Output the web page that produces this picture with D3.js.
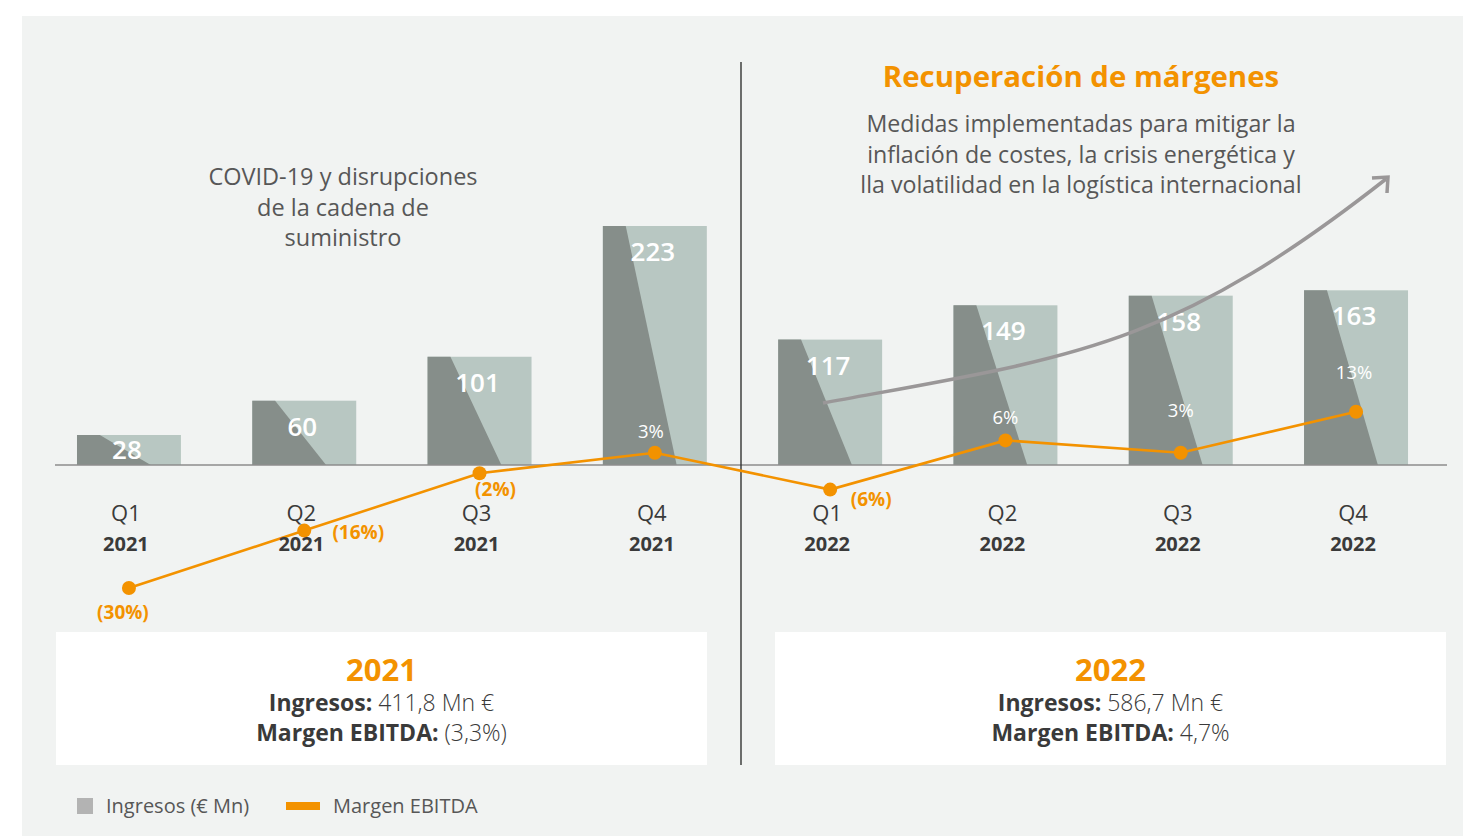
<!DOCTYPE html>
<html>
<head>
<meta charset="utf-8">
<script src="https://cdn.jsdelivr.net/npm/d3@7"></script>
<style>
  html, body { margin: 0; padding: 0; background: #ffffff; }
  svg { display: block; font-family: "Open Sans", Lato, sans-serif; }
</style>
</head>
<body>
<svg id="chart" width="1463" height="836"></svg>
<script>
// Quarterly revenue (€ Mn) and EBITDA margin (%)
const quarters = ["Q1", "Q2", "Q3", "Q4", "Q1", "Q2", "Q3", "Q4"];
const years    = ["2021", "2021", "2021", "2021", "2022", "2022", "2022", "2022"];
const ingresos = [28, 60, 101, 223, 117, 149, 158, 163];
const margen   = [-30, -16, -2, 3, -6, 6, 3, 13];

// Yearly summaries
const summaryYears    = ["2021", "2022"];
const summaryIngresos = ["411,8 Mn €", "586,7 Mn €"];
const summaryMargen   = ["(3,3%)", "4,7%"];

// Annotations
const covidLines  = ["COVID-19 y disrupciones", "de la cadena de", "suministro"];
const recTitle    = "Recuperación de márgenes";
const recLines    = ["Medidas implementadas para mitigar la",
                     "inflación de costes, la crisis energética y",
                     "lla volatilidad en la logística internacional"];
const legendItems = ["Ingresos (€ Mn)", "Margen EBITDA"];

// Where each margin label sits relative to its point
const marginLabelOffset = [[-6, 24], [54, 2], [16, 16], [-4, -21], [41, 10], [0, -23], [0, -42], [-2, -39]];

const ORANGE = "#f39200";
const LIGHT  = "#b8c7c2";
const DARK   = "#868e8a";
const TEXT   = "#3a3a3a";
const SOFT   = "#575757";

const svg = d3.select("#chart");
const baseY = 465;

// panel background
svg.append("rect").attr("x", 22).attr("y", 16).attr("width", 1441).attr("height", 820).attr("fill", "#f1f3f2");

const idx = d3.range(quarters.length);
const x = d3.scaleBand().domain(idx).range([41.3, 41.3 + 175.3 * 8]).paddingInner(0.407).paddingOuter(0.2035);
const bw = x.bandwidth();
const yBar = d3.scaleLinear().domain([0, 223]).range([baseY, 226]);
const yMar = d3.scaleLinear().domain([-30, 15]).range([baseY + 30 * 4.1, baseY - 15 * 4.1]);

// bars: light body with a darker slanted wedge on the left
const bars = svg.append("g").selectAll("g").data(idx).join("g");
bars.append("rect")
  .attr("x", i => x(i)).attr("y", i => yBar(ingresos[i]))
  .attr("width", bw).attr("height", i => baseY - yBar(ingresos[i]))
  .attr("fill", LIGHT);
bars.append("path")
  .attr("d", i => {
    const l = x(i), t = yBar(ingresos[i]);
    return `M${l},${t}L${l + bw * 0.22},${t}L${l + bw * 0.71},${baseY}L${l},${baseY}Z`;
  })
  .attr("fill", DARK);

// baseline and divider
svg.append("line").attr("x1", 55).attr("x2", 1447).attr("y1", baseY).attr("y2", baseY)
  .attr("stroke", "#8c8c8c").attr("stroke-width", 1.6);
svg.append("line").attr("x1", 741).attr("x2", 741).attr("y1", 62).attr("y2", 765)
  .attr("stroke", "#333").attr("stroke-width", 1.4);

// bar value labels
svg.append("g").selectAll("text").data(idx).join("text")
  .attr("x", i => x(i) + bw / 2 - 2)
  .attr("y", i => Math.min(yBar(ingresos[i]) + 26, (yBar(ingresos[i]) + baseY) / 2))
  .attr("dy", "0.35em").attr("text-anchor", "middle")
  .attr("fill", "#fff").attr("font-size", 26).attr("font-weight", 600)
  .text(i => ingresos[i]);

// recovery arrow
const arrow = d3.path();
arrow.moveTo(823, 403);
arrow.bezierCurveTo(1073, 357, 1168, 350, 1386, 179);
svg.append("path").attr("d", arrow.toString()).attr("fill", "none")
  .attr("stroke", "#9a9798").attr("stroke-width", 3.5);
svg.append("path").attr("d", "M1372,178L1388,177L1387,193").attr("fill", "none")
  .attr("stroke", "#9a9798").attr("stroke-width", 3.5).attr("stroke-linejoin", "miter");

// EBITDA margin line
const cx = i => x(i) + bw / 2;
svg.append("path")
  .attr("d", d3.line().x(i => cx(i)).y(i => yMar(margen[i]))(idx))
  .attr("fill", "none").attr("stroke", ORANGE).attr("stroke-width", 2.6);
svg.append("g").selectAll("circle").data(idx).join("circle")
  .attr("cx", i => cx(i)).attr("cy", i => yMar(margen[i])).attr("r", 7)
  .attr("fill", ORANGE);
svg.append("g").selectAll("text").data(idx).join("text")
  .attr("x", i => cx(i) + marginLabelOffset[i][0])
  .attr("y", i => yMar(margen[i]) + marginLabelOffset[i][1])
  .attr("dy", "0.35em").attr("text-anchor", "middle")
  .attr("font-size", i => margen[i] < 0 ? 19 : 18.5)
  .attr("font-weight", i => margen[i] < 0 ? 700 : 400)
  .attr("fill", i => margen[i] < 0 ? ORANGE : "#fff")
  .text(i => margen[i] < 0 ? `(${-margen[i]}%)` : `${margen[i]}%`);

// category axis labels
const axisG = svg.append("g");
axisG.selectAll("text.q").data(idx).join("text").attr("class", "q")
  .attr("x", i => cx(i) - 3).attr("y", 513).attr("dy", "0.35em")
  .attr("text-anchor", "middle").attr("font-size", 22).attr("fill", TEXT)
  .text(i => quarters[i]);
axisG.selectAll("text.yr").data(idx).join("text").attr("class", "yr")
  .attr("x", i => cx(i) - 3).attr("y", 544).attr("dy", "0.35em")
  .attr("text-anchor", "middle").attr("font-size", 20).attr("font-weight", 700).attr("fill", TEXT)
  .text(i => years[i]);

// annotation texts
svg.append("g").selectAll("text").data(covidLines).join("text")
  .attr("x", 343).attr("y", (d, i) => 177 + i * 30.5).attr("dy", "0.35em")
  .attr("text-anchor", "middle").attr("font-size", 23.5).attr("fill", SOFT)
  .text(d => d);
svg.append("text").attr("x", 1081).attr("y", 77).attr("dy", "0.35em")
  .attr("text-anchor", "middle").attr("font-size", 29.4).attr("font-weight", 700).attr("fill", ORANGE)
  .text(recTitle);
svg.append("g").selectAll("text").data(recLines).join("text")
  .attr("x", 1081).attr("y", (d, i) => 124 + i * 30.5).attr("dy", "0.35em")
  .attr("text-anchor", "middle").attr("font-size", 23.2).attr("fill", SOFT)
  .text(d => d);

// yearly summary boxes
const boxes = [[56, 651], [775, 671]];
summaryYears.forEach((yr, k) => {
  const [bx, bwid] = boxes[k];
  const g = svg.append("g");
  const mid = bx + bwid / 2;
  g.append("rect").attr("x", bx).attr("y", 632).attr("width", bwid).attr("height", 133).attr("fill", "#fff");
  g.append("text").attr("x", mid).attr("y", 670).attr("dy", "0.35em").attr("text-anchor", "middle")
    .attr("font-size", 31).attr("font-weight", 700).attr("fill", ORANGE).text(yr);
  const t1 = g.append("text").attr("x", mid).attr("y", 703).attr("dy", "0.35em").attr("text-anchor", "middle")
    .attr("font-size", 23).attr("fill", TEXT);
  t1.append("tspan").attr("font-weight", 700).text("Ingresos: ");
  t1.append("tspan").attr("font-weight", 300).text(summaryIngresos[k]);
  const t2 = g.append("text").attr("x", mid).attr("y", 733).attr("dy", "0.35em").attr("text-anchor", "middle")
    .attr("font-size", 23).attr("fill", TEXT);
  t2.append("tspan").attr("font-weight", 700).text("Margen EBITDA: ");
  t2.append("tspan").attr("font-weight", 300).text(summaryMargen[k]);
});

// legend
const lg = svg.append("g");
lg.append("rect").attr("x", 77).attr("y", 798).attr("width", 16).attr("height", 16).attr("fill", "#b3b3b3");
lg.append("text").attr("x", 106).attr("y", 806).attr("dy", "0.35em").attr("font-size", 20).attr("fill", SOFT).text(legendItems[0]);
lg.append("rect").attr("x", 286).attr("y", 802).attr("width", 34).attr("height", 8).attr("fill", ORANGE);
lg.append("text").attr("x", 333).attr("y", 806).attr("dy", "0.35em").attr("font-size", 20).attr("fill", SOFT).text(legendItems[1]);
</script>
</body>
</html>
